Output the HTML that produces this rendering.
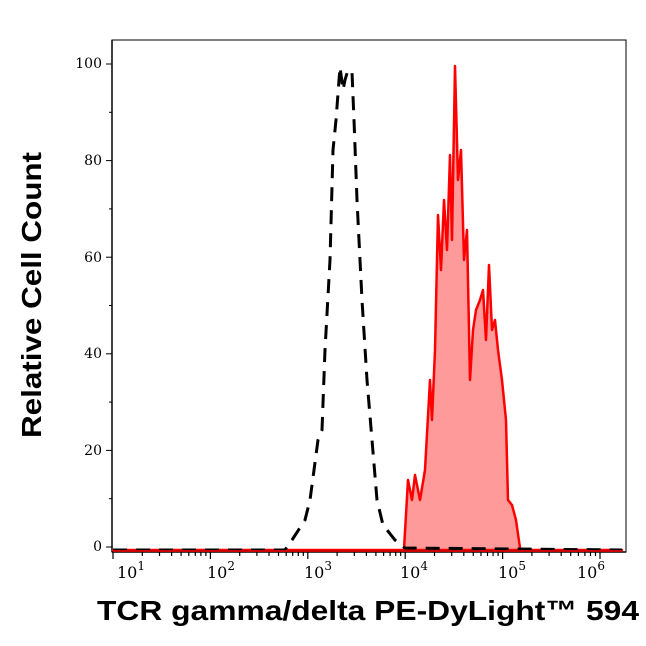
<!DOCTYPE html><html><head><style>body{margin:0;background:#fff}</style></head><body>
<svg width="646" height="641" xmlns="http://www.w3.org/2000/svg" font-family="DejaVu Serif, serif">
<rect x="112" y="40" width="514" height="512" fill="none" stroke="#000" stroke-width="1"/>
<g stroke="#000" stroke-width="1.5">
<line x1="112" y1="552" x2="626" y2="552"/>
<line x1="112" y1="40" x2="112" y2="552"/>
</g>
<g stroke="#000" stroke-width="1">
<line x1="106" y1="547" x2="112" y2="547"/><line x1="106" y1="450.4" x2="112" y2="450.4"/><line x1="106" y1="353.8" x2="112" y2="353.8"/><line x1="106" y1="257.2" x2="112" y2="257.2"/><line x1="106" y1="160.6" x2="112" y2="160.6"/><line x1="106" y1="64" x2="112" y2="64"/>
<line x1="109" y1="498.7" x2="112" y2="498.7"/><line x1="109" y1="402.1" x2="112" y2="402.1"/><line x1="109" y1="305.5" x2="112" y2="305.5"/><line x1="109" y1="208.9" x2="112" y2="208.9"/><line x1="109" y1="112.3" x2="112" y2="112.3"/>
</g>
<path stroke="#000" stroke-width="1.2" fill="none" d="
M113,552v7 M142.3,552v4 M159.5,552v4 M171.6,552v4 M181.1,552v4 M188.8,552v4 M195.3,552v4 M200.9,552v4 M205.9,552v4
M210.4,552v7 M239.7,552v4 M256.9,552v4 M269,552v4 M278.5,552v4 M286.2,552v4 M292.7,552v4 M298.3,552v4 M303.3,552v4
M307.8,552v7 M337.1,552v4 M354.3,552v4 M366.4,552v4 M375.9,552v4 M383.6,552v4 M390.1,552v4 M395.7,552v4 M400.7,552v4
M405.2,552v7 M434.5,552v4 M451.7,552v4 M463.8,552v4 M473.3,552v4 M481,552v4 M487.5,552v4 M493.1,552v4 M498.1,552v4
M502.6,552v7 M531.9,552v4 M549.1,552v4 M561.2,552v4 M570.7,552v4 M578.4,552v4 M584.9,552v4 M590.5,552v4 M595.5,552v4
M600,552v7"/>
<g font-size="14" text-anchor="end">
<text x="102" y="551">0</text><text x="102" y="455">20</text><text x="102" y="358">40</text><text x="102" y="262">60</text><text x="102" y="165">80</text><text x="102" y="68">100</text>
</g>
<g font-size="16">
<text x="117" y="578">10<tspan font-size="12" dy="-8">1</tspan></text>
<text x="207" y="578">10<tspan font-size="12" dy="-8">2</tspan></text>
<text x="304" y="578">10<tspan font-size="12" dy="-8">3</tspan></text>
<text x="400" y="578">10<tspan font-size="12" dy="-8">4</tspan></text>
<text x="498" y="578">10<tspan font-size="12" dy="-8">5</tspan></text>
<text x="577" y="578">10<tspan font-size="12" dy="-8">6</tspan></text>
</g>
<path d="M113,550 L404,550 L404,549 L408,480 L412,500 L415,475 L420,500 L425,470 L430,380 L432,420 L435,350 L438,215 L441,270 L444,200 L447,250 L450,155 L452,240 L455,66 L458,180 L461,150 L464,260 L467,230 L470,380 L473,330 L476,310 L480,300 L483,290 L486,340 L489,265 L492,330 L495,320 L498,350 L502,380 L506,420 L508,500 L512,505 L516,520 L520,548 L526,550 L622,550 Z" fill="#ff9a9a" stroke="#f00" stroke-width="2.5" stroke-linejoin="round"/>
<path d="M113,550 L285,550 L292,540 L305,520 L310,500 L318,440 L322,430 L325,350 L330,260 L333,150 L336,120 L340,67 L343,90 L345,80 L348,70 L352,72 L354,120 L357,200 L362,300 L367,380 L372,440 L377,500 L383,525 L395,540 L405,548 L622,550" fill="none" stroke="#000" stroke-width="3" stroke-dasharray="14,9"/>
<line x1="113" y1="551" x2="622" y2="551" stroke="#c00" stroke-width="2"/>
<g font-family="Liberation Sans, sans-serif" font-weight="bold" font-size="28">
<text x="97" y="620" textLength="542" lengthAdjust="spacingAndGlyphs">TCR gamma/delta PE-DyLight™ 594</text>
<text transform="translate(41,438) rotate(-90)" textLength="286" lengthAdjust="spacingAndGlyphs">Relative Cell Count</text>
</g>
</svg>
</body></html>
